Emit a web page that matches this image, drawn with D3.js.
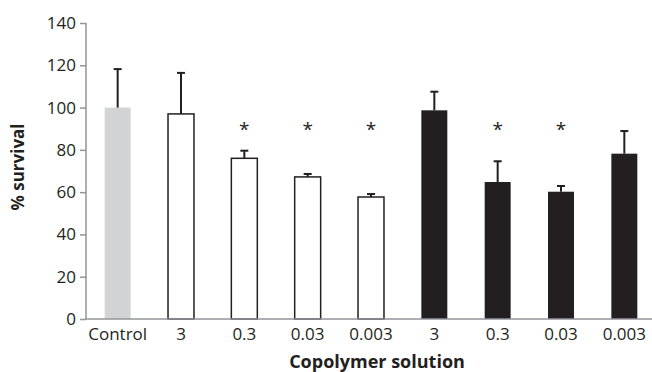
<!DOCTYPE html>
<html lang="en">
<head>
<meta charset="UTF-8">
<title>% survival</title>
<script src="https://cdn.jsdelivr.net/npm/d3@7"></script>
<style>
    body { margin: 0; background: #fff; }
    text { font-family: "Open Sans", sans-serif; fill: #231f20; }
    .axis path, .axis line { stroke: #939598; stroke-width: 1.5px; }
    .axis text { font-size: 17px; }
    .title { font-weight: bold; font-size: 17px; }
</style>
</head>
<body>
<svg width="652" height="372"></svg>
<script>
// data
var categories = ["Control", "3", "0.3", "0.03", "0.003", "3", "0.3", "0.03", "0.003"];
var groups = ["control", "open", "open", "open", "open", "solid", "solid", "solid", "solid"];
var survival = [100, 97, 76, 67.2, 57.7, 98.7, 64.8, 60.2, 78.2];
var errorTop = [118.2, 116.4, 79.6, 68.6, 59.1, 107.5, 74.6, 62.9, 88.9];
var significant = [false, false, true, true, true, false, true, true, false];
var yTicks = [0, 20, 40, 60, 80, 100, 120, 140];

(function () {
    var svg = d3.select("svg");
    var left = 86, right = 656, top = 23, bottom = 319;

    var x = d3.scaleBand()
        .domain(d3.range(categories.length))
        .range([left, right])
        .paddingInner(0.59)
        .paddingOuter(0.295);

    var y = d3.scaleLinear().domain([0, 140]).range([bottom, top]);

    var fill = { control: "#d1d3d4", open: "#fff", solid: "#231f20" };
    var dark = "#231f20";

    // y axis
    var yAxis = svg.append("g")
        .attr("class", "axis")
        .attr("transform", "translate(" + left + ",0)")
        .call(d3.axisLeft(y).tickValues(yTicks).tickSize(6).tickPadding(4));
    yAxis.select(".domain").attr("d", "M0," + bottom + "V" + top);

    // bars
    svg.append("g").selectAll("rect")
        .data(survival)
        .enter().append("rect")
        .attr("x", function (d, i) { return x(i); })
        .attr("y", function (d) { return y(d); })
        .attr("width", x.bandwidth())
        .attr("height", function (d) { return y(0) - y(d); })
        .attr("fill", function (d, i) { return fill[groups[i]]; })
        .attr("stroke", function (d, i) { return groups[i] === "open" ? dark : "none"; })
        .attr("stroke-width", 1.5);

    // error bars (upper only)
    var err = svg.append("g").attr("stroke", dark).attr("stroke-width", 2);
    survival.forEach(function (v, i) {
        var cx = x(i) + x.bandwidth() / 2;
        err.append("line")
            .attr("x1", cx).attr("x2", cx)
            .attr("y1", y(v)).attr("y2", y(errorTop[i]));
        err.append("line")
            .attr("x1", cx - 4).attr("x2", cx + 4)
            .attr("y1", y(errorTop[i])).attr("y2", y(errorTop[i]));
    });

    // asterisks
    svg.append("g").selectAll("text")
        .data(significant.map(function (s, i) { return s ? i : -1; }).filter(function (i) { return i >= 0; }))
        .enter().append("text")
        .attr("x", function (i) { return x(i) + x.bandwidth() / 2; })
        .attr("y", y(91) + 9)
        .attr("text-anchor", "middle")
        .style("font-size", "19px")
        .text("*");

    // x axis
    var xAxis = svg.append("g")
        .attr("class", "axis")
        .attr("transform", "translate(0," + bottom + ")")
        .call(d3.axisBottom(x).tickSize(0).tickPadding(9)
            .tickFormat(function (i) { return categories[i]; }));
    xAxis.select(".domain").attr("d", "M" + left + ",0H652");

    // titles
    svg.append("text")
        .attr("class", "title")
        .attr("transform", "translate(24,167) rotate(-90)")
        .attr("text-anchor", "middle")
        .text("% survival");

    svg.append("text")
        .attr("class", "title")
        .attr("x", 377)
        .attr("y", 368)
        .attr("text-anchor", "middle")
        .style("font-size", "18px")
        .text("Copolymer solution");
})();
</script>
</body>
</html>
